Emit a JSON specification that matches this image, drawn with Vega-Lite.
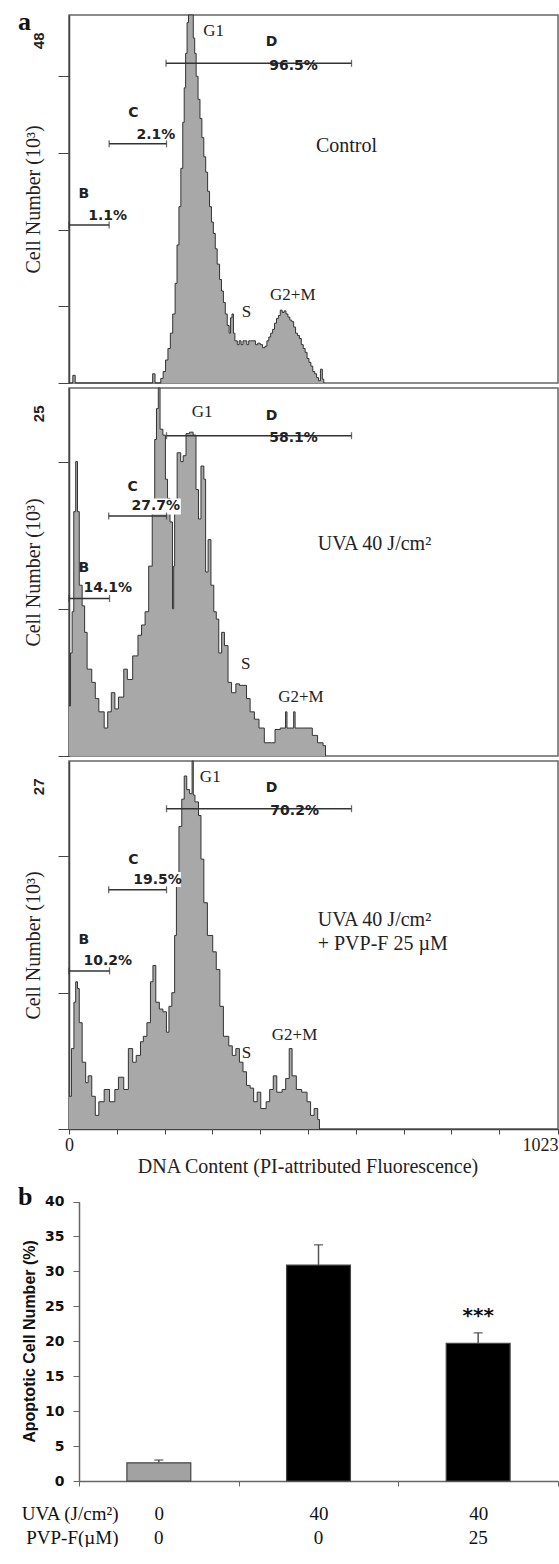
{
"$schema": "https://vega.github.io/schema/vega-lite/v6.json",
"background": "white",
"padding": {"left": 17, "top": 8, "right": 0, "bottom": 0},
"spacing": 5,
"bounds": "flush",
"config": {"font": "Liberation Serif", "view": {"stroke": "#666", "strokeWidth": 1.5}, "axis": {"grid": false}},
"datasets": {
"h1": [{"ch":0,"n":0},{"ch":8,"n":1},{"ch":13,"n":0},{"ch":175,"n":1.2},{"ch":180,"n":0},{"ch":192,"n":0.6},{"ch":197,"n":1.5},{"ch":202,"n":3},{"ch":207,"n":4.5},{"ch":212,"n":6.5},{"ch":217,"n":9},{"ch":222,"n":13},{"ch":226,"n":18},{"ch":230,"n":23},{"ch":234,"n":28},{"ch":238,"n":34},{"ch":241,"n":38.5},{"ch":244,"n":43},{"ch":247,"n":47},{"ch":250,"n":48},{"ch":256,"n":48},{"ch":260,"n":45},{"ch":263,"n":43},{"ch":266,"n":40},{"ch":270,"n":37},{"ch":274,"n":34.5},{"ch":278,"n":32},{"ch":282,"n":29.5},{"ch":286,"n":27.5},{"ch":290,"n":25},{"ch":294,"n":23},{"ch":298,"n":21},{"ch":302,"n":19.5},{"ch":306,"n":17.5},{"ch":310,"n":15.5},{"ch":315,"n":13.5},{"ch":319,"n":12},{"ch":323,"n":10.5},{"ch":327,"n":9},{"ch":331,"n":7.5},{"ch":335,"n":6.5},{"ch":338,"n":8.5},{"ch":341,"n":9},{"ch":344,"n":6.5},{"ch":347,"n":5.5},{"ch":352,"n":5},{"ch":356,"n":5.5},{"ch":360,"n":5},{"ch":364,"n":5.5},{"ch":368,"n":5.5},{"ch":372,"n":5},{"ch":376,"n":5.5},{"ch":380,"n":5.5},{"ch":385,"n":5.5},{"ch":390,"n":5},{"ch":395,"n":5.2},{"ch":400,"n":5},{"ch":405,"n":4.6},{"ch":410,"n":4.8},{"ch":414,"n":5.5},{"ch":418,"n":6},{"ch":422,"n":6.5},{"ch":426,"n":7},{"ch":430,"n":7.8},{"ch":434,"n":8.4},{"ch":438,"n":8.8},{"ch":442,"n":9.5},{"ch":446,"n":9.2},{"ch":450,"n":9.4},{"ch":454,"n":9},{"ch":458,"n":8.6},{"ch":462,"n":8.2},{"ch":466,"n":8},{"ch":470,"n":7.3},{"ch":474,"n":6.5},{"ch":478,"n":6.2},{"ch":482,"n":5.8},{"ch":486,"n":5},{"ch":490,"n":4.5},{"ch":494,"n":4},{"ch":498,"n":3.2},{"ch":502,"n":2.7},{"ch":506,"n":2.2},{"ch":510,"n":1.5},{"ch":514,"n":1.2},{"ch":518,"n":0.7},{"ch":522,"n":0.3},{"ch":526,"n":1.8},{"ch":530,"n":0.5},{"ch":533,"n":0}],
"h2": [{"ch":0,"n":3.4},{"ch":3,"n":7},{"ch":6.6,"n":9.8},{"ch":10,"n":16.6},{"ch":14,"n":20},{"ch":17.8,"n":16.6},{"ch":21.5,"n":11.6},{"ch":27.5,"n":10.2},{"ch":32.7,"n":8.4},{"ch":37.9,"n":5.9},{"ch":47.6,"n":5.0},{"ch":55,"n":3.9},{"ch":62.4,"n":3.0},{"ch":73.6,"n":1.9},{"ch":81,"n":3.0},{"ch":88.5,"n":4.3},{"ch":96,"n":3.2},{"ch":103.4,"n":4.0},{"ch":114.6,"n":5.9},{"ch":122,"n":5.2},{"ch":133.2,"n":6.8},{"ch":144.3,"n":8.2},{"ch":151.8,"n":8.9},{"ch":159.2,"n":9.8},{"ch":166.7,"n":12.9},{"ch":174.1,"n":17},{"ch":179.3,"n":21.5},{"ch":183,"n":23.6},{"ch":186.8,"n":25},{"ch":190.5,"n":22.2},{"ch":196.4,"n":21.8},{"ch":201.7,"n":18.8},{"ch":206.1,"n":17.5},{"ch":211.3,"n":15.9},{"ch":216.5,"n":10},{"ch":219,"n":12.9},{"ch":221,"n":16.6},{"ch":226.2,"n":20.6},{"ch":233.7,"n":20},{"ch":238.9,"n":20.4},{"ch":244.8,"n":21.9},{"ch":252.3,"n":22},{"ch":259.7,"n":21.8},{"ch":265.7,"n":18.1},{"ch":270.9,"n":16.1},{"ch":276.1,"n":19.7},{"ch":282.1,"n":18.8},{"ch":285.8,"n":12.5},{"ch":291,"n":14.7},{"ch":297,"n":11.6},{"ch":302.9,"n":9.8},{"ch":308.1,"n":9.3},{"ch":313.3,"n":7.0},{"ch":319.3,"n":8.4},{"ch":325.2,"n":7.5},{"ch":332.7,"n":5.0},{"ch":340.1,"n":4.3},{"ch":349.1,"n":4.9},{"ch":356.5,"n":4.8},{"ch":364,"n":4.8},{"ch":371.4,"n":3.9},{"ch":378.9,"n":3.0},{"ch":387.8,"n":2.5},{"ch":397.5,"n":1.9},{"ch":408.6,"n":0.9},{"ch":423.5,"n":0.9},{"ch":431,"n":1.8},{"ch":442,"n":1.9},{"ch":453,"n":3.0},{"ch":456,"n":1.9},{"ch":464.5,"n":1.9},{"ch":470,"n":3.0},{"ch":473,"n":1.9},{"ch":487,"n":1.9},{"ch":498,"n":1.9},{"ch":509,"n":1.4},{"ch":520,"n":0.9},{"ch":531.5,"n":0.7},{"ch":536.7,"n":0}],
"h3": [{"ch":0,"n":2.4},{"ch":5.1,"n":5.9},{"ch":10.3,"n":9.3},{"ch":14,"n":10.8},{"ch":17.8,"n":10.3},{"ch":21.5,"n":7.8},{"ch":27.5,"n":4.9},{"ch":34.9,"n":3.4},{"ch":40.1,"n":3.9},{"ch":47.6,"n":2.4},{"ch":55,"n":1.0},{"ch":62.4,"n":2.0},{"ch":73.6,"n":2.9},{"ch":84.8,"n":2.0},{"ch":95.9,"n":2.9},{"ch":103.4,"n":3.8},{"ch":114.6,"n":2.9},{"ch":124.2,"n":5.9},{"ch":133.2,"n":4.9},{"ch":140.6,"n":5.4},{"ch":149.6,"n":6.4},{"ch":155.5,"n":6.8},{"ch":163,"n":7.8},{"ch":170.4,"n":10.8},{"ch":175.6,"n":12.0},{"ch":181.6,"n":9.3},{"ch":189,"n":8.8},{"ch":196.4,"n":8.6},{"ch":203.9,"n":7.1},{"ch":209.1,"n":9.0},{"ch":215.1,"n":10.0},{"ch":221,"n":14.2},{"ch":224.7,"n":18.1},{"ch":230,"n":22.2},{"ch":235.9,"n":24.2},{"ch":241.1,"n":25.9},{"ch":246.3,"n":24.9},{"ch":252.3,"n":24.6},{"ch":257.5,"n":27},{"ch":260,"n":24.5},{"ch":263.5,"n":24.0},{"ch":270.9,"n":23.0},{"ch":276.1,"n":19.8},{"ch":282.1,"n":16.6},{"ch":289.5,"n":14.2},{"ch":300.7,"n":13.0},{"ch":308.1,"n":11.7},{"ch":315.6,"n":9.0},{"ch":323,"n":6.8},{"ch":334.2,"n":6.1},{"ch":341.6,"n":5.4},{"ch":349.1,"n":5.9},{"ch":356.5,"n":4.9},{"ch":364,"n":4.2},{"ch":371.4,"n":3.2},{"ch":378.9,"n":3.0},{"ch":386.3,"n":2.0},{"ch":393.7,"n":2.7},{"ch":401.2,"n":1.5},{"ch":412.4,"n":2.0},{"ch":419.8,"n":2.9},{"ch":427.3,"n":3.9},{"ch":434.7,"n":2.7},{"ch":445.9,"n":2.9},{"ch":453.3,"n":3.7},{"ch":460.7,"n":5.9},{"ch":466.7,"n":3.9},{"ch":475.6,"n":2.9},{"ch":486.8,"n":2.7},{"ch":498,"n":2.0},{"ch":505.4,"n":1.0},{"ch":512.8,"n":1.5},{"ch":520.3,"n":0.7},{"ch":524,"n":0}],
"r1": [{"ch":203,"ch2":591,"n":41.7},{"ch":84,"ch2":204,"n":31.2},{"ch":0,"ch2":84,"n":20.6}],
"r2": [{"ch":204,"ch2":591,"n":21.76},{"ch":83,"ch2":204,"n":16.3},{"ch":0,"ch2":84.8,"n":10.7}],
"r3": [{"ch":204,"ch2":591,"n":23.5},{"ch":83,"ch2":204,"n":17.55},{"ch":0,"ch2":84.8,"n":11.6}],
"b2": [{"ch":129,"ch2":234,"n":16.4,"n2":17.5}],
"b3": [{"ch":134,"ch2":234,"n":17.75,"n2":18.85}],
"t1": [{"role":"phase","ch":302.5,"n":45.9,"t":"G1"},{"role":"phase","ch":371.4,"n":9.2,"t":"S"},{"role":"phase","ch":468.2,"n":11.5,"t":"G2+M"},{"role":"treatment","ch":516.6,"n":30.9,"t":"Control"},{"role":"gate","ch":423.6,"n":44.5,"t":"D"},{"role":"gate","ch":469.7,"n":41.4,"t":"96.5%"},{"role":"gate","ch":134.6,"n":35.2,"t":"C"},{"role":"gate","ch":181.6,"n":32.4,"t":"2.1%"},{"role":"gate","ch":31,"n":24.7,"t":"B"},{"role":"gate","ch":81,"n":21.8,"t":"1.1%"}],
"t2": [{"role":"phase","ch":278.3,"n":23.4,"t":"G1"},{"role":"phase","ch":369.9,"n":6.25,"t":"S"},{"role":"phase","ch":485.3,"n":4.0,"t":"G2+M"},{"role":"treatment","ch":520.3,"n":14.4,"t":"UVA 40 J/cm²"},{"role":"gate","ch":423.6,"n":23.1,"t":"D"},{"role":"gate","ch":469.7,"n":21.6,"t":"58.1%"},{"role":"gate","ch":133,"n":18.3,"t":"C"},{"role":"gate","ch":181.6,"n":16.95,"t":"27.7%"},{"role":"gate","ch":31,"n":12.8,"t":"B"},{"role":"gate","ch":81,"n":11.4,"t":"14.1%"}],
"t3": [{"role":"phase","ch":295.5,"n":25.8,"t":"G1"},{"role":"phase","ch":371.4,"n":5.6,"t":"S"},{"role":"phase","ch":471.9,"n":6.9,"t":"G2+M"},{"role":"treatment","ch":520.3,"n":15.35,"t":"UVA 40 J/cm²"},{"role":"treatment","ch":520.3,"n":13.6,"t":"+ PVP-F 25 µM"},{"role":"gate","ch":423.6,"n":25.0,"t":"D"},{"role":"gate","ch":472,"n":23.35,"t":"70.2%"},{"role":"gate","ch":134.6,"n":19.75,"t":"C"},{"role":"gate","ch":185.3,"n":18.3,"t":"19.5%"},{"role":"gate","ch":31,"n":13.9,"t":"B"},{"role":"gate","ch":81,"n":12.3,"t":"10.2%"}],
"bars": [{"cond":"0|0","pct":2.6,"upper":3.0,"sig":""},{"cond":"40|0","pct":30.9,"upper":33.8,"sig":""},{"cond":"40|25","pct":19.7,"upper":21.2,"sig":"***"}]
},
"vconcat": [
{
"width": 489, "height": 368,
"title": {"text": "a", "anchor": "start", "frame": "group", "dx": -51, "dy": 43, "offset": 0, "baseline": "alphabetic", "font": "Liberation Serif", "fontSize": 26, "fontWeight": "bold", "color": "#111"},
"encoding": {
"x": {"field": "ch", "type": "quantitative", "scale": {"domain": [0, 1023], "nice": false, "zero": false}, "axis": null},
"y": {"field": "n", "type": "quantitative", "scale": {"domain": [0, 48], "nice": false}, "axis": {"values": [0, 10, 20, 30, 40, 48], "tickSize": 11, "tickColor": {"condition": {"test": "datum.value == 48", "value": "transparent"}, "value": "#444"}, "domainColor": "#444", "domainWidth": 1.5, "labelOverlap": false, "labelExpr": "datum.value == 48 ? '48' : ''", "labelAngle": 270, "labelAlign": "right", "labelBaseline": "middle", "labelPadding": 20, "labelOffset": 17, "labelFont": "Liberation Sans", "labelFontWeight": "bold", "labelFontSize": 15, "labelColor": "#222", "title": "Cell Number (10³)", "titleFont": "Liberation Serif", "titleFontSize": 20, "titleFontWeight": "normal", "titleColor": "#222", "titleAngle": 270, "titleAlign": "center", "titleBaseline": "middle", "titleX": -36, "titleY": 184}}
},
"layer": [
{"data": {"name": "h1"}, "mark": {"type": "area", "interpolate": "step-after", "color": "#a8a8a8"}},
{"data": {"name": "h1"}, "mark": {"type": "line", "interpolate": "step-after", "color": "#333", "strokeWidth": 1}},
{"data": {"name": "r1"}, "mark": {"type": "rule", "color": "#333", "strokeWidth": 1.5}, "encoding": {"x2": {"field": "ch2"}}},
{"data": {"name": "r1"}, "transform": [{"fold": ["ch", "ch2"], "as": ["end", "ch"]}], "mark": {"type": "tick", "orient": "vertical", "size": 7, "thickness": 1.3, "color": "#333"}},
{"data": {"name": "t1"}, "transform": [{"filter": "datum.role == 'phase'"}], "mark": {"type": "text", "font": "Liberation Serif", "fontSize": 17, "align": "center", "baseline": "middle", "color": "#222"}, "encoding": {"text": {"field": "t"}}},
{"data": {"name": "t1"}, "transform": [{"filter": "datum.role == 'treatment'"}], "mark": {"type": "text", "font": "Liberation Serif", "fontSize": 20, "align": "left", "baseline": "middle", "color": "#222"}, "encoding": {"text": {"field": "t"}}},
{"data": {"name": "t1"}, "transform": [{"filter": "datum.role == 'gate'"}], "mark": {"type": "text", "font": "DejaVu Sans", "fontWeight": "bold", "fontSize": 14, "align": "center", "baseline": "middle", "color": "#222"}, "encoding": {"text": {"field": "t"}}}
]
},
{
"width": 489, "height": 368,
"encoding": {
"x": {"field": "ch", "type": "quantitative", "scale": {"domain": [0, 1023], "nice": false, "zero": false}, "axis": null},
"y": {"field": "n", "type": "quantitative", "scale": {"domain": [0, 25], "nice": false}, "axis": {"values": [0, 10, 20, 25], "tickSize": 11, "tickColor": {"condition": {"test": "datum.value == 25", "value": "transparent"}, "value": "#444"}, "domainColor": "#444", "domainWidth": 1.5, "labelOverlap": false, "labelExpr": "datum.value == 25 ? '25' : ''", "labelAngle": 270, "labelAlign": "right", "labelBaseline": "middle", "labelPadding": 20, "labelOffset": 17, "labelFont": "Liberation Sans", "labelFontWeight": "bold", "labelFontSize": 15, "labelColor": "#222", "title": "Cell Number (10³)", "titleFont": "Liberation Serif", "titleFontSize": 20, "titleFontWeight": "normal", "titleColor": "#222", "titleAngle": 270, "titleAlign": "center", "titleBaseline": "middle", "titleX": -36, "titleY": 184}}
},
"layer": [
{"data": {"name": "h2"}, "mark": {"type": "area", "interpolate": "step-after", "color": "#a8a8a8"}},
{"data": {"name": "h2"}, "mark": {"type": "line", "interpolate": "step-after", "color": "#333", "strokeWidth": 1}},
{"data": {"name": "b2"}, "mark": {"type": "rect", "color": "white"}, "encoding": {"x2": {"field": "ch2"}, "y2": {"field": "n2"}}},
{"data": {"name": "r2"}, "mark": {"type": "rule", "color": "#333", "strokeWidth": 1.5}, "encoding": {"x2": {"field": "ch2"}}},
{"data": {"name": "r2"}, "transform": [{"fold": ["ch", "ch2"], "as": ["end", "ch"]}], "mark": {"type": "tick", "orient": "vertical", "size": 7, "thickness": 1.3, "color": "#333"}},
{"data": {"name": "t2"}, "transform": [{"filter": "datum.role == 'phase'"}], "mark": {"type": "text", "font": "Liberation Serif", "fontSize": 17, "align": "center", "baseline": "middle", "color": "#222"}, "encoding": {"text": {"field": "t"}}},
{"data": {"name": "t2"}, "transform": [{"filter": "datum.role == 'treatment'"}], "mark": {"type": "text", "font": "Liberation Serif", "fontSize": 20, "align": "left", "baseline": "middle", "color": "#222"}, "encoding": {"text": {"field": "t"}}},
{"data": {"name": "t2"}, "transform": [{"filter": "datum.role == 'gate'"}], "mark": {"type": "text", "font": "DejaVu Sans", "fontWeight": "bold", "fontSize": 14, "align": "center", "baseline": "middle", "color": "#222"}, "encoding": {"text": {"field": "t"}}}
]
},
{
"width": 489, "height": 368,
"encoding": {
"x": {"field": "ch", "type": "quantitative", "scale": {"domain": [0, 1023], "nice": false, "zero": false}, "axis": {"values": [0, 100, 200, 300, 400, 500, 600, 700, 800, 900, 1023], "tickSize": 5, "tickColor": "#444", "domainColor": "#444", "domainWidth": 1.5, "labelOverlap": false, "labelExpr": "datum.value == 0 ? '0' : (datum.value == 1023 ? '1023' : '')", "labelAlign": {"condition": {"test": "datum.value == 1023", "value": "right"}, "value": "center"}, "labelBaseline": "alphabetic", "labelPadding": 16, "labelFont": "Liberation Serif", "labelFontSize": 18, "labelColor": "#222", "title": "DNA Content (PI-attributed Fluorescence)", "titleFont": "Liberation Serif", "titleFontSize": 20, "titleFontWeight": "normal", "titleColor": "#222", "titleAlign": "center", "titleBaseline": "alphabetic", "titleX": 238.5, "titleY": 43.3}},
"y": {"field": "n", "type": "quantitative", "scale": {"domain": [0, 27], "nice": false}, "axis": {"values": [0, 10, 20, 27], "tickSize": 11, "tickColor": {"condition": {"test": "datum.value == 27", "value": "transparent"}, "value": "#444"}, "domainColor": "#444", "domainWidth": 1.5, "labelOverlap": false, "labelExpr": "datum.value == 27 ? '27' : ''", "labelAngle": 270, "labelAlign": "right", "labelBaseline": "middle", "labelPadding": 20, "labelOffset": 17, "labelFont": "Liberation Sans", "labelFontWeight": "bold", "labelFontSize": 15, "labelColor": "#222", "title": "Cell Number (10³)", "titleFont": "Liberation Serif", "titleFontSize": 20, "titleFontWeight": "normal", "titleColor": "#222", "titleAngle": 270, "titleAlign": "center", "titleBaseline": "middle", "titleX": -36, "titleY": 184}}
},
"layer": [
{"data": {"name": "h3"}, "mark": {"type": "area", "interpolate": "step-after", "color": "#a8a8a8"}},
{"data": {"name": "h3"}, "mark": {"type": "line", "interpolate": "step-after", "color": "#333", "strokeWidth": 1}},
{"data": {"name": "b3"}, "mark": {"type": "rect", "color": "white"}, "encoding": {"x2": {"field": "ch2"}, "y2": {"field": "n2"}}},
{"data": {"name": "r3"}, "mark": {"type": "rule", "color": "#333", "strokeWidth": 1.5}, "encoding": {"x2": {"field": "ch2"}}},
{"data": {"name": "r3"}, "transform": [{"fold": ["ch", "ch2"], "as": ["end", "ch"]}], "mark": {"type": "tick", "orient": "vertical", "size": 7, "thickness": 1.3, "color": "#333"}},
{"data": {"name": "t3"}, "transform": [{"filter": "datum.role == 'phase'"}], "mark": {"type": "text", "font": "Liberation Serif", "fontSize": 17, "align": "center", "baseline": "middle", "color": "#222"}, "encoding": {"text": {"field": "t"}}},
{"data": {"name": "t3"}, "transform": [{"filter": "datum.role == 'treatment'"}], "mark": {"type": "text", "font": "Liberation Serif", "fontSize": 20, "align": "left", "baseline": "middle", "color": "#222"}, "encoding": {"text": {"field": "t"}}},
{"data": {"name": "t3"}, "transform": [{"filter": "datum.role == 'gate'"}], "mark": {"type": "text", "font": "DejaVu Sans", "fontWeight": "bold", "fontSize": 14, "align": "center", "baseline": "middle", "color": "#222"}, "encoding": {"text": {"field": "t"}}}
]
},
{
"width": 489, "height": 347,
"view": {"stroke": null},
"title": {"text": "b", "anchor": "start", "frame": "group", "dx": -51, "dy": 97, "offset": 0, "baseline": "alphabetic", "font": "Liberation Serif", "fontSize": 26, "fontWeight": "bold", "color": "#111"},
"data": {"name": "bars"},
"resolve": {"axis": {"x": "independent"}},
"layer": [
{"mark": {"type": "bar", "width": {"band": 0.4}, "stroke": "#444", "strokeWidth": 1.2}, "encoding": {
"x": {"field": "cond", "type": "nominal", "sort": null, "scale": {"range": [10, 489], "paddingInner": 0, "paddingOuter": 0}, "axis": {"orient": "bottom", "tickBand": "extent", "tickSize": 5, "tickColor": "#666", "domainColor": "#666", "domainWidth": 1.5, "labelExpr": "isString(datum.value) && indexof(datum.value, '|') >= 0 ? split(datum.value, '|')[0] : ''", "labelAngle": 0, "labelFont": "Liberation Serif", "labelFontSize": 19, "labelColor": "#111", "labelBaseline": "alphabetic", "labelPadding": 33, "title": "UVA (J/cm²)", "titleFont": "Liberation Serif", "titleFontSize": 19, "titleFontWeight": "normal", "titleColor": "#111", "titleAlign": "right", "titleBaseline": "alphabetic", "titleX": 49, "titleY": 38}},
"y": {"field": "pct", "type": "quantitative", "scale": {"domain": [0, 40], "range": [347, 67.5], "nice": false}, "axis": {"values": [0, 5, 10, 15, 20, 25, 30, 35, 40], "offset": -10, "tickSize": 6, "tickColor": "#666", "domainColor": "#666", "domainWidth": 1.5, "labelFont": "DejaVu Sans", "labelFontWeight": "bold", "labelFontSize": 14, "labelColor": "#111", "labelPadding": 9, "title": "Apoptotic Cell Number (%)", "titleFont": "Liberation Sans", "titleFontWeight": "bold", "titleFontSize": 16, "titleColor": "#111", "titleAngle": 270, "titleAlign": "center", "titleBaseline": "middle", "titleX": -50, "titleY": 207}},
"color": {"field": "cond", "type": "nominal", "sort": null, "scale": {"range": ["#a2a2a2", "#000000", "#000000"]}, "legend": null}}},
{"mark": {"type": "rule", "color": "#555", "strokeWidth": 1.5}, "encoding": {
"x": {"field": "cond", "type": "nominal", "sort": null, "axis": {"orient": "bottom", "offset": 24, "domain": false, "ticks": false, "tickSize": 0, "labelExpr": "isString(datum.value) && indexof(datum.value, '|') >= 0 ? split(datum.value, '|')[1] : ''", "labelAngle": 0, "labelFont": "Liberation Serif", "labelFontSize": 19, "labelColor": "#111", "labelBaseline": "alphabetic", "labelPadding": 38, "title": "PVP-F(µM)", "titleFont": "Liberation Serif", "titleFontSize": 19, "titleFontWeight": "normal", "titleColor": "#111", "titleAlign": "right", "titleBaseline": "alphabetic", "titleX": 49, "titleY": 38}},
"y": {"field": "pct", "type": "quantitative"}, "y2": {"field": "upper"}}},
{"mark": {"type": "tick", "color": "#444", "thickness": 1.5, "size": 9}, "encoding": {"x": {"field": "cond", "type": "nominal", "sort": null, "axis": null}, "y": {"field": "upper", "type": "quantitative"}}},
{"mark": {"type": "text", "font": "DejaVu Sans", "fontWeight": "bold", "fontSize": 20, "baseline": "middle", "dy": -17, "color": "#111"}, "encoding": {"x": {"field": "cond", "type": "nominal", "sort": null, "axis": null}, "y": {"field": "upper", "type": "quantitative"}, "text": {"field": "sig"}}}
]
}
]
}
